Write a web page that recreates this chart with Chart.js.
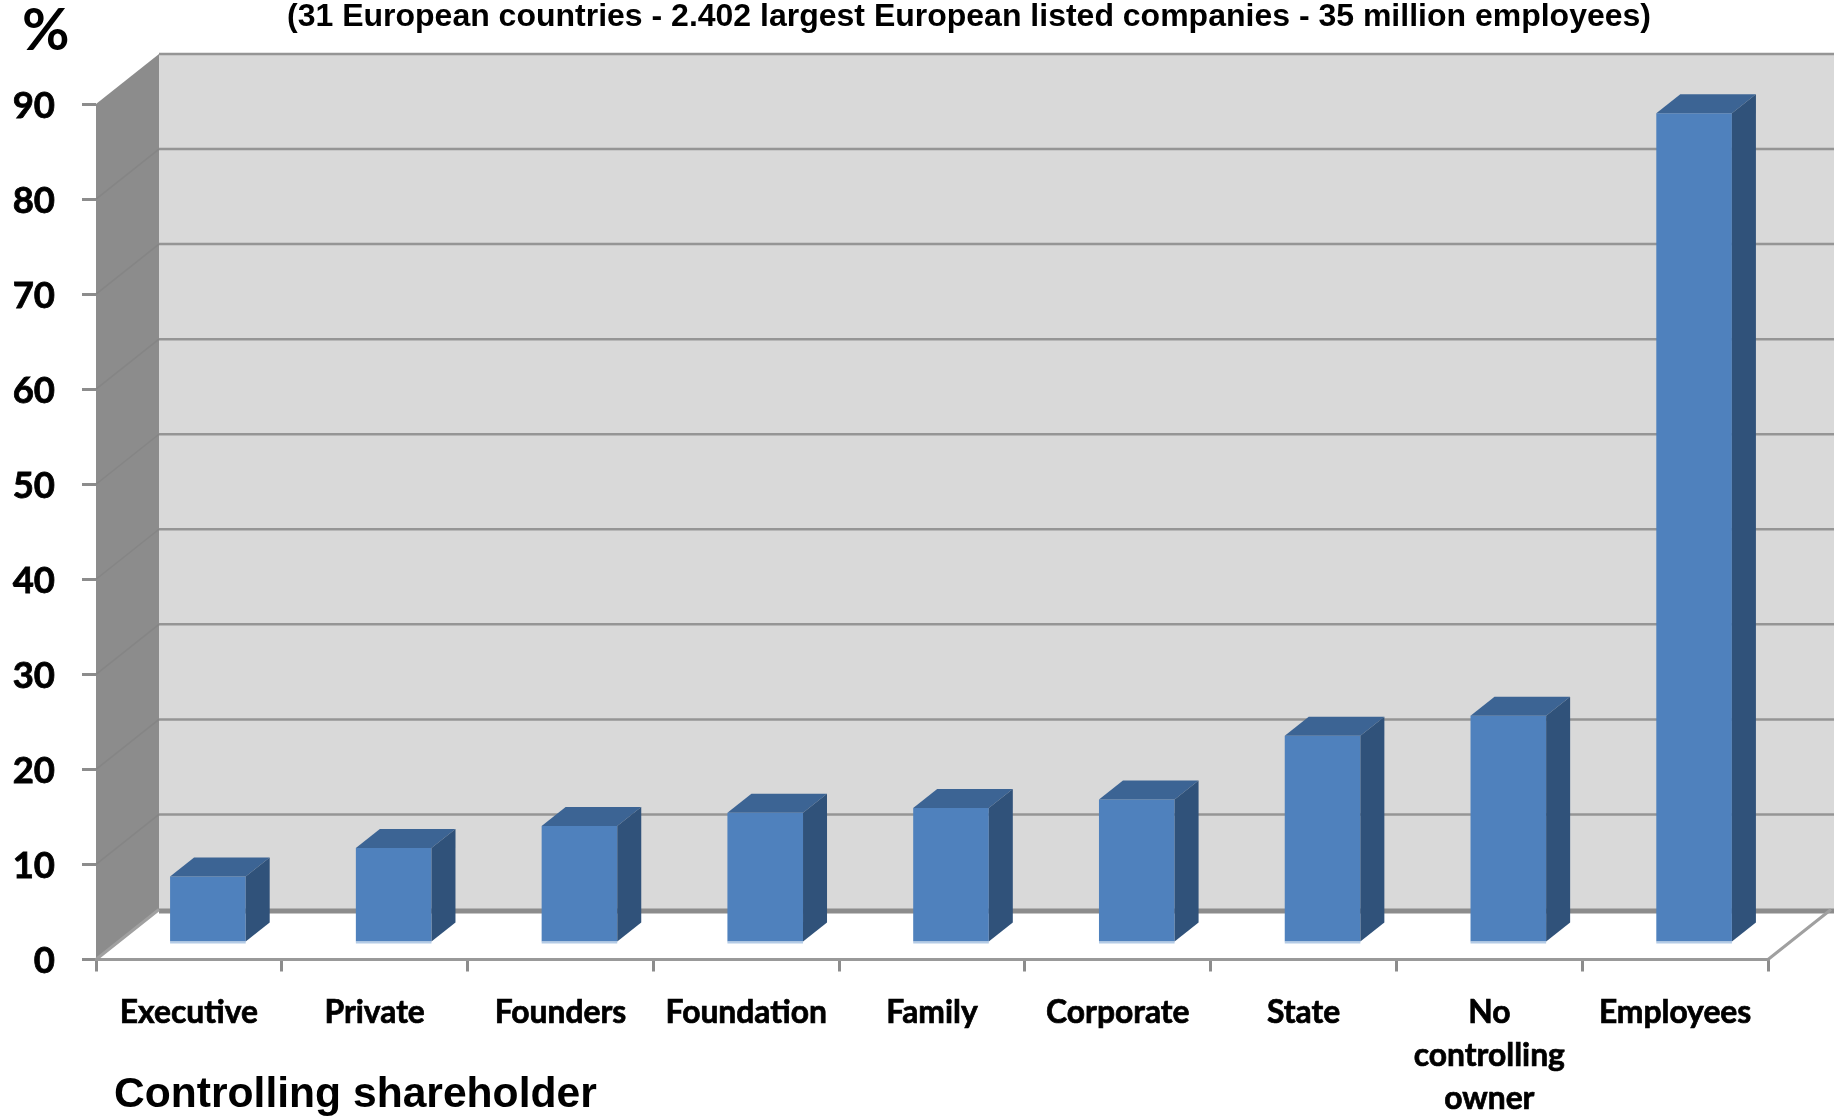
<!DOCTYPE html>
<html>
<head>
<meta charset="utf-8">
<title>Controlling shareholder</title>
<script src="https://cdn.jsdelivr.net/npm/chart.js@4"></script>
<style>
  html, body { margin: 0; padding: 0; background: #fff; }
  canvas { display: block; }
</style>
</head>
<body>
<canvas id="shareholders" width="1837" height="1117"></canvas>
<script>
const categories = ['Executive', 'Private', 'Founders', 'Foundation', 'Family', 'Corporate', 'State', ['No', 'controlling', 'owner'], 'Employees'];
const percentages = [7, 10, 12.3, 13.7, 14.2, 15.1, 21.8, 23.9, 87.3];
const yTicks = [0, 10, 20, 30, 40, 50, 60, 70, 80, 90];
const titleText = '(31 European countries - 2.402 largest European listed companies - 35 million employees)';
const xAxisText = 'Controlling shareholder';

// 3D look: how far the back wall sits from the front of the box
const wallDx = 63, wallDy = -50;
// bars stand part of the way into the floor
const barDx = 19, barDy = -16.5;
// depth of the bar itself
const faceDx = 24, faceDy = -19;

const gridGrey = '#8c8c8c';

const walls = {
  id: 'walls',
  beforeDraw(chart) {
    const { ctx, chartArea: a, scales: { y } } = chart;
    ctx.save();
    // back wall
    ctx.fillStyle = '#d9d9d9';
    ctx.fillRect(a.left + wallDx, a.top + wallDy, a.right - a.left + 3, a.bottom - a.top);
    // side wall
    ctx.fillStyle = '#8c8c8c';
    ctx.beginPath();
    ctx.moveTo(a.left, a.top);
    ctx.lineTo(a.left + wallDx, a.top + wallDy);
    ctx.lineTo(a.left + wallDx, a.bottom + wallDy);
    ctx.lineTo(a.left, a.bottom);
    ctx.closePath();
    ctx.fill();
    // grid lines
    yTicks.forEach(v => {
      const py = y.getPixelForValue(v);
      const lift = v === 0 ? 1.5 : 0;
      ctx.strokeStyle = v === 0 ? gridGrey : '#959595';
      ctx.lineWidth = v === 0 ? 5 : 2.5;
      ctx.beginPath();
      ctx.moveTo(a.left + wallDx, py + wallDy + lift);
      ctx.lineTo(a.right + wallDx + 3, py + wallDy + lift);
      ctx.stroke();
      if (v > 0 && v < 90) {
        ctx.strokeStyle = '#858585';
        ctx.lineWidth = 1.5;
        ctx.beginPath();
        ctx.moveTo(a.left, py);
        ctx.lineTo(a.left + wallDx, py + wallDy);
        ctx.stroke();
      }
    });
    // floor edges
    ctx.strokeStyle = '#a0a0a0';
    ctx.lineWidth = 3;
    ctx.beginPath();
    ctx.moveTo(a.left, a.bottom);
    ctx.lineTo(a.left + wallDx, a.bottom + wallDy);
    ctx.moveTo(a.right, a.bottom);
    ctx.lineTo(a.right + wallDx, a.bottom + wallDy);
    ctx.stroke();
    ctx.restore();
  }
};

const bars3d = {
  id: 'bars3d',
  beforeDatasetsDraw(chart) {
    chart.ctx.save();
    chart.ctx.translate(barDx, barDy);
  },
  afterDatasetsDraw(chart) {
    const { ctx } = chart;
    chart.getDatasetMeta(0).data.forEach(bar => {
      const l = bar.x - bar.width / 2, r = bar.x + bar.width / 2;
      // top face
      ctx.fillStyle = '#3c6494';
      ctx.beginPath();
      ctx.moveTo(l, bar.y);
      ctx.lineTo(l + faceDx, bar.y + faceDy);
      ctx.lineTo(r + faceDx, bar.y + faceDy);
      ctx.lineTo(r, bar.y);
      ctx.closePath();
      ctx.fill();
      // side face
      ctx.fillStyle = '#30527a';
      ctx.beginPath();
      ctx.moveTo(r, bar.y);
      ctx.lineTo(r + faceDx, bar.y + faceDy);
      ctx.lineTo(r + faceDx, bar.base + faceDy);
      ctx.lineTo(r, bar.base);
      ctx.closePath();
      ctx.fill();
      // pale edge along the foot of the bar
      ctx.fillStyle = '#b4cbe6';
      ctx.fillRect(l, bar.base, r - l, 2);
    });
    ctx.restore();
  }
};

const captions = {
  id: 'captions',
  afterDraw(chart) {
    const { ctx } = chart;
    ctx.save();
    ctx.fillStyle = '#000';
    ctx.textBaseline = 'alphabetic';
    ctx.textAlign = 'left';
    ctx.font = 'bold 32px "Liberation Sans"';
    ctx.fillText(titleText, 287, 26);
    ctx.font = 'bold 42.6px "Liberation Sans"';
    ctx.fillText(xAxisText, 114, 1107);
    ctx.font = 'bold 58px Lato';
    ctx.fillText('%', 22, 50);
    ctx.restore();
  }
};

const ctx = document.getElementById('shareholders').getContext('2d');
const chart = new Chart(ctx, {
  type: 'bar',
  data: {
    labels: categories,
    datasets: [{
      data: percentages,
      backgroundColor: '#4f81bd',
      borderWidth: 0,
      barPercentage: 0.407,
      categoryPercentage: 1,
      clip: false
    }]
  },
  options: {
    responsive: false,
    animation: false,
    layout: { padding: { top: 104, right: 69, bottom: 0, left: 0 } },
    plugins: { legend: { display: false }, tooltip: { enabled: false } },
    scales: {
      x: {
        afterFit: scale => { scale.height = 157.5; },
        grid: { drawOnChartArea: false, color: gridGrey, lineWidth: 3, tickLength: 12 },
        border: { color: '#999999', width: 3 },
        ticks: {
          color: '#000',
          padding: 20,
          maxRotation: 0,
          autoSkip: false,
          textStrokeColor: '#000',
          textStrokeWidth: 0.7,
          font: { family: 'Lato', weight: 'bold', size: 31.8, lineHeight: 1.345 }
        }
      },
      y: {
        min: 0,
        max: 90,
        afterFit: scale => { scale.width = 96; },
        afterBuildTicks: scale => { scale.ticks = yTicks.map(value => ({ value })); },
        grid: { drawOnChartArea: false, color: gridGrey, lineWidth: 3, tickLength: 14 },
        border: { display: false },
        ticks: {
          color: '#000',
          padding: 27,
          labelOffset: 2,
          textStrokeColor: '#000',
          textStrokeWidth: 0.8,
          font: { family: 'Lato', weight: 'bold', size: 36.5 }
        }
      }
    }
  },
  plugins: [walls, bars3d, captions]
});
</script>
</body>
</html>
